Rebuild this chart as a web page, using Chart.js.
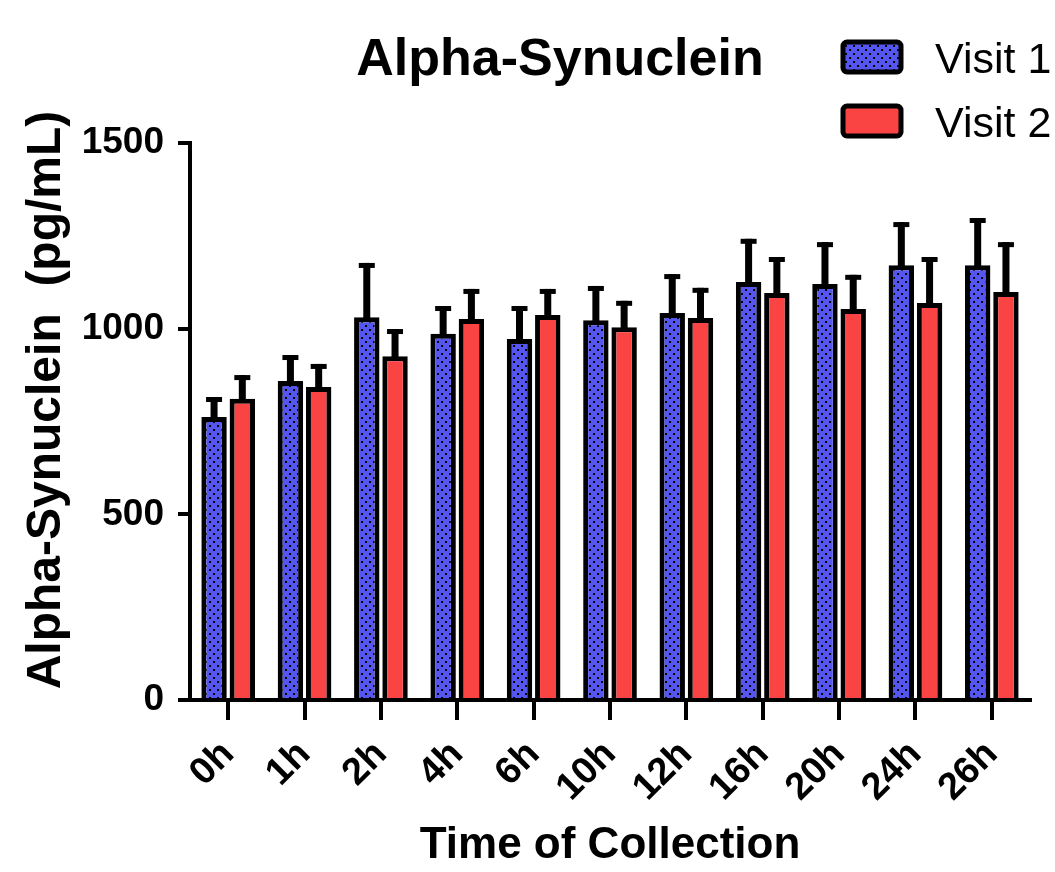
<!DOCTYPE html>
<html>
<head>
<meta charset="utf-8">
<script src="https://cdn.jsdelivr.net/npm/chart.js@4.4.1/dist/chart.umd.min.js"></script>
<style>
  html, body { margin: 0; padding: 0; background: #fff; overflow: hidden; }
</style>
</head>
<body>
<canvas id="synChart" width="1055" height="872"></canvas>
<script>
// --- data ---
const times = ['0h', '1h', '2h', '4h', '6h', '10h', '12h', '16h', '20h', '24h', '26h'];
const visit1 = [762, 859, 1031, 986, 972, 1023, 1042, 1126, 1120, 1171, 1171];
const visit1Err = [54, 70, 146, 75, 89, 92, 105, 116, 113, 116, 127];
const visit2 = [811, 843, 926, 1026, 1037, 1004, 1029, 1096, 1053, 1069, 1099];
const visit2Err = [64, 62, 73, 81, 70, 71, 81, 97, 92, 124, 134];
const yTicks = [0, 500, 1000, 1500];

const FONT = "'Liberation Sans', Arial, sans-serif";
const BLUE = '#5555f0', RED = '#fa4343';

// dotted fill for the blue bars
function dotPattern(ctx) {
    const c = document.createElement('canvas');
    c.width = 8; c.height = 8;
    const g = c.getContext('2d');
    g.fillStyle = BLUE; g.fillRect(0, 0, 8, 8);
    g.fillStyle = '#000';
    g.fillRect(1, 1, 2, 2);
    g.fillRect(5, 5, 2, 2);
    return ctx.createPattern(c, 'repeat');
}

// error bars (upper only) + title + legend
const extras = {
    id: 'extras',
    afterDatasetsDraw(chart) {
        const ctx = chart.ctx, y = chart.scales.y;
        chart.data.datasets.forEach((ds, di) => {
            const meta = chart.getDatasetMeta(di);
            meta.data.forEach((bar, i) => {
                const top = y.getPixelForValue(ds.data[i] + ds.errors[i]);
                ctx.save();
                ctx.fillStyle = '#000';
                ctx.fillRect(bar.x - 3.5, top, 7, bar.y - top + 2);
                ctx.fillRect(bar.x - 8, top, 16, 5);
                ctx.restore();
            });
        });
    },
    afterDraw(chart) {
        const ctx = chart.ctx;
        ctx.save();
        ctx.fillStyle = '#000';
        ctx.textAlign = 'center';
        ctx.textBaseline = 'alphabetic';
        ctx.font = 'bold 52px ' + FONT;
        ctx.fillText('Alpha-Synuclein', 560, 75);

        // y axis title
        ctx.save();
        ctx.translate(60, 400);
        ctx.rotate(-Math.PI / 2);
        ctx.font = 'bold 48px ' + FONT;
        ctx.fillText('Alpha-Synuclein  (pg/mL)', 0, 0);
        ctx.restore();

        // legend
        ctx.textAlign = 'left';
        ctx.font = '43px ' + FONT;
        chart.data.datasets.forEach((ds, i) => {
            const by = 40 + i * 64;
            ctx.fillStyle = ds.backgroundColor;
            ctx.strokeStyle = '#000';
            ctx.lineWidth = 5;
            ctx.beginPath();
            ctx.roundRect(843, by + 2, 58, 30, 4);
            ctx.fill();
            ctx.stroke();
            ctx.fillStyle = '#000';
            ctx.fillText(ds.label, 935, by + 33);
        });
        ctx.restore();
    }
};

const canvas = document.getElementById('synChart');
const ctx = canvas.getContext('2d');

new Chart(ctx, {
    type: 'bar',
    data: {
        labels: times,
        datasets: [{
            label: 'Visit 1', data: visit1, errors: visit1Err,
            backgroundColor: dotPattern(ctx), borderColor: '#000', borderWidth: 5,
            categoryPercentage: 0.74, barPercentage: 0.9
        }, {
            label: 'Visit 2', data: visit2, errors: visit2Err,
            backgroundColor: RED, borderColor: '#000', borderWidth: 5,
            categoryPercentage: 0.74, barPercentage: 0.9
        }]
    },
    options: {
        responsive: false,
        animation: false,
        layout: { padding: { top: 143, right: 25, bottom: 0, left: 0 } },
        plugins: { legend: { display: false }, title: { display: false }, tooltip: { enabled: false } },
        scales: {
            x: {
                offset: true,
                grid: { offset: false, drawOnChartArea: false, drawTicks: true, tickLength: 20, tickColor: '#000', lineWidth: 4 },
                border: { color: '#000', width: 4 },
                ticks: { color: '#000', font: { family: FONT, size: 38, weight: 'bold' }, minRotation: 45, maxRotation: 45, padding: 12, autoSkip: false },
                title: { display: true, text: 'Time of Collection', color: '#000', font: { family: FONT, size: 44, weight: 'bold' }, padding: { top: 0, bottom: 0 } },
                afterFit(s) { s.height = 172; }
            },
            y: {
                min: 0, max: 1500,
                afterBuildTicks(s) { s.ticks = yTicks.map(v => ({ value: v })); },
                grid: { drawOnChartArea: false, drawTicks: true, tickLength: 12, tickColor: '#000', lineWidth: 4 },
                border: { color: '#000', width: 4 },
                ticks: { color: '#000', font: { family: FONT, size: 37, weight: 'bold' }, padding: 14, callback: v => String(v) },
                afterFit(s) { s.width = 190; }
            }
        }
    },
    plugins: [extras]
});
</script>
</body>
</html>
